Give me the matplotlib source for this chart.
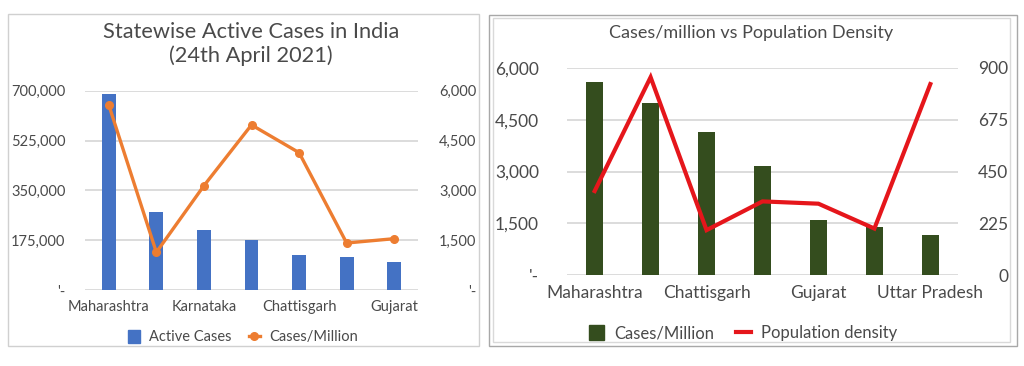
import matplotlib.pyplot as plt
import numpy as np
from matplotlib.patches import Rectangle
from matplotlib.lines import Line2D
from matplotlib.ticker import FuncFormatter

# Left chart: active cases by state (24 April 2021)
states_active = ['Maharashtra', 'Uttar Pradesh', 'Karnataka', 'Kerala',
                 'Chattisgarh', 'Rajasthan', 'Gujarat']
active_cases = [689000, 272500, 211500, 176500, 122000, 116000, 97000]
cases_per_million_left = [5570, 1135, 3140, 4970, 4135, 1415, 1545]

# Right chart: cases/million vs population density
states_density = ['Maharashtra', 'Kerala', 'Chattisgarh', 'Karnataka',
                  'Gujarat', 'Rajasthan', 'Uttar Pradesh']
cases_per_million = [5600, 4990, 4155, 3145, 1580, 1400, 1160]
pop_density = [365, 860, 195, 320, 310, 202, 830]

TEXT = '#4a4a4a'
GRID = '#D9D9D9'
FONT = ['Lato', 'DejaVu Sans']

plt.rcParams.update({
    'font.family': FONT,
    'text.color': TEXT,
    'xtick.color': TEXT,
    'ytick.color': TEXT,
})


def dash_zero(val, pos):
    if val == 0:
        return "'-"
    return f'{val:,.0f}'


def style_axes(ax, ax2, ymax, ystep, ymax2, ystep2, fs, lpad, rpad, xpad):
    ax.set_ylim(0, ymax)
    ax.set_yticks(np.arange(0, ymax + 1, ystep))
    ax2.set_ylim(0, ymax2)
    ax2.set_yticks(np.arange(0, ymax2 + 1, ystep2))
    ax.yaxis.grid(True, color=GRID, lw=1.3)
    ax.set_axisbelow(True)
    for a in (ax, ax2):
        for sp in a.spines.values():
            sp.set_visible(False)
        a.tick_params(length=0, labelsize=fs)
    ax.tick_params(axis='y', pad=lpad)
    ax.tick_params(axis='x', pad=xpad)
    ax2.tick_params(axis='y', pad=rpad)


fig = plt.figure(figsize=(10.24, 3.66), dpi=100)

# chart borders
fig.patches.append(Rectangle((8 / 1024, 1 - 346 / 366), 471 / 1024, 332 / 366,
                             transform=fig.transFigure, fill=False,
                             ec='#D0D0D0', lw=1.0))
fig.patches.append(Rectangle((489 / 1024, 1 - 346 / 366), 528 / 1024, 331 / 366,
                             transform=fig.transFigure, fill=False,
                             ec='#A8A8A8', lw=1.0))
fig.patches.append(Rectangle((493 / 1024, 1 - 342 / 366), 517 / 1024, 324 / 366,
                             transform=fig.transFigure, fill=False,
                             ec='#D9D9D9', lw=1.0))

# ---- left chart ----
x = np.arange(len(states_active))
ax1 = fig.add_axes([85 / 1024, 1 - 290 / 366, 333 / 1024, 199.3 / 366])
ax1.bar(x, active_cases, width=0.29, color='#4472C4', zorder=2)
ax1.set_xlim(-0.5, len(x) - 0.5)
ax1b = ax1.twinx()
ax1b.plot(x, cases_per_million_left, color='#ED7D31', lw=2.4,
          marker='o', ms=5.5, zorder=3)
style_axes(ax1, ax1b, 700000, 175000, 6000, 1500, 10.5, 14, 42, 7)
ax1.yaxis.set_major_formatter(FuncFormatter(dash_zero))
ax1b.yaxis.set_major_formatter(FuncFormatter(dash_zero))
for lab in ax1b.get_yticklabels():
    lab.set_horizontalalignment('right')
ax1.set_xticks(x[::2])
ax1.set_xticklabels(states_active[::2])

fig.text(251 / 1024, 1 - 44 / 366,
         'Statewise Active Cases in India\n(24th April 2021)',
         ha='center', va='center', fontsize=15.7, linespacing=1.2, color=TEXT)

h1 = [Rectangle((0, 0), 1, 1, color='#4472C4'),
      Line2D([], [], color='#ED7D31', lw=2.4, marker='o', ms=5.5)]
fig.legend(h1, ['Active Cases', 'Cases/Million'], loc='center',
           bbox_to_anchor=(243 / 1024, 1 - 337 / 366), ncol=2, frameon=False,
           fontsize=10.5, handlelength=0.8, handleheight=1.0, columnspacing=1.2,
           handletextpad=0.6)

# ---- right chart ----
x2 = np.arange(len(states_density))
ax2 = fig.add_axes([566.7 / 1024, 1 - 275 / 366, 391.6 / 1024, 207 / 366])
ax2.bar(x2, cases_per_million, width=0.31, color='#344D1E', zorder=2)
ax2.set_xlim(-0.5, len(x2) - 0.5)
ax2b = ax2.twinx()
ax2b.plot(x2, pop_density, color='#E5161B', lw=3.0, zorder=3,
          solid_joinstyle='miter')
style_axes(ax2, ax2b, 6000, 1500, 900, 225, 12.5, 20, 36, 7)
ax2.yaxis.set_major_formatter(FuncFormatter(dash_zero))
ax2b.yaxis.set_major_formatter(FuncFormatter(lambda v, p: f'{v:,.0f}'))
for lab in ax2b.get_yticklabels():
    lab.set_horizontalalignment('right')
ax2.set_xticks(x2[::2])
ax2.set_xticklabels(states_density[::2])

fig.text(751 / 1024, 1 - 33 / 366, 'Cases/million vs Population Density',
         ha='center', va='center', fontsize=13, color=TEXT)

h2 = [Rectangle((0, 0), 1, 1, color='#344D1E'),
      Line2D([], [], color='#E5161B', lw=3.0)]
fig.legend(h2, ['Cases/Million', 'Population density'], loc='center',
           bbox_to_anchor=(743 / 1024, 1 - 333 / 366), ncol=2, frameon=False,
           fontsize=12, handlelength=0.9, handleheight=1.0, columnspacing=1.3,
           handletextpad=0.6)

fig.savefig('out.png', dpi=100)
